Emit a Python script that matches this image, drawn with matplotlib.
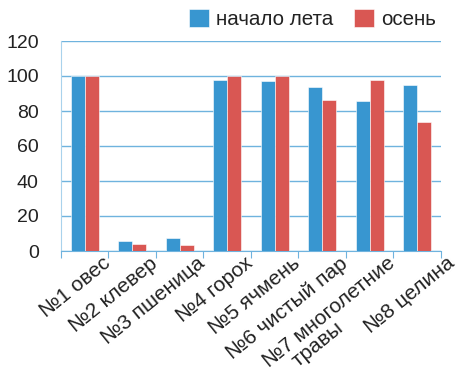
import numpy as np
import matplotlib
matplotlib.use("Agg")
import matplotlib.pyplot as plt

plt.rcParams['font.family'] = ['Liberation Sans', 'DejaVu Sans']

categories = ['№1 овес', '№2 клевер', '№3 пшеница', '№4 горох', '№5 ячмень',
              '№6 чистый пар', '№7 многолетние\n    травы', '№8 целина']
early_summer = [100, 6, 7.5, 97.5, 97, 93.7, 86, 94.6]
autumn = [100, 4, 3.5, 100, 99.8, 86.5, 97.7, 73.8]

blue = '#3896d0'
red = '#d95753'
grid_c = '#6fb3de'
txt = '#222222'

fig = plt.figure(figsize=(4.64, 3.77), dpi=100)
ax = fig.add_axes([61/464, 1 - 251/377, 380/464, 210/377])

x = np.arange(len(categories))
w = 0.29
ax.bar(x - w/2, early_summer, w, color=blue, edgecolor='white', linewidth=0.4,
       label='начало лета', zorder=3)
ax.bar(x + w/2, autumn, w, color=red, edgecolor='white', linewidth=0.4,
       label='осень', zorder=3)

ax.set_xlim(-0.5, len(categories) - 0.5)
ax.set_ylim(0, 120)
ax.set_yticks(range(0, 121, 20))
ax.yaxis.grid(True, color=grid_c, linewidth=1.0, zorder=0)

for s in ['top', 'right']:
    ax.spines[s].set_visible(False)
ax.spines['left'].set_color('#a9d2ec')
ax.spines['bottom'].set_color(grid_c)

ax.set_xticks(np.arange(-0.5, len(categories), 1.0))
ax.set_xticklabels([])
ax.tick_params(axis='x', length=5, color=grid_c, direction='out')
ax.tick_params(axis='y', length=0, labelsize=14, labelcolor=txt, pad=16)

# the last label sits a bit further right in the original
for i, lab in enumerate(categories):
    dx = 0.6 if i == len(categories) - 1 else 0.36
    ax.text(i + dx, -1.5, lab, rotation=39, ha='right', va='top',
            rotation_mode='anchor', fontsize=15, color=txt,
            multialignment='left', linespacing=0.9)

fig.legend(loc='upper right', bbox_to_anchor=(0.979, 1.026), ncol=2, frameon=False,
           fontsize=14.8, handlelength=1.0, handleheight=1.0, columnspacing=1.0,
           handletextpad=0.32, labelcolor=txt)

fig.savefig('out.png', dpi=100)
